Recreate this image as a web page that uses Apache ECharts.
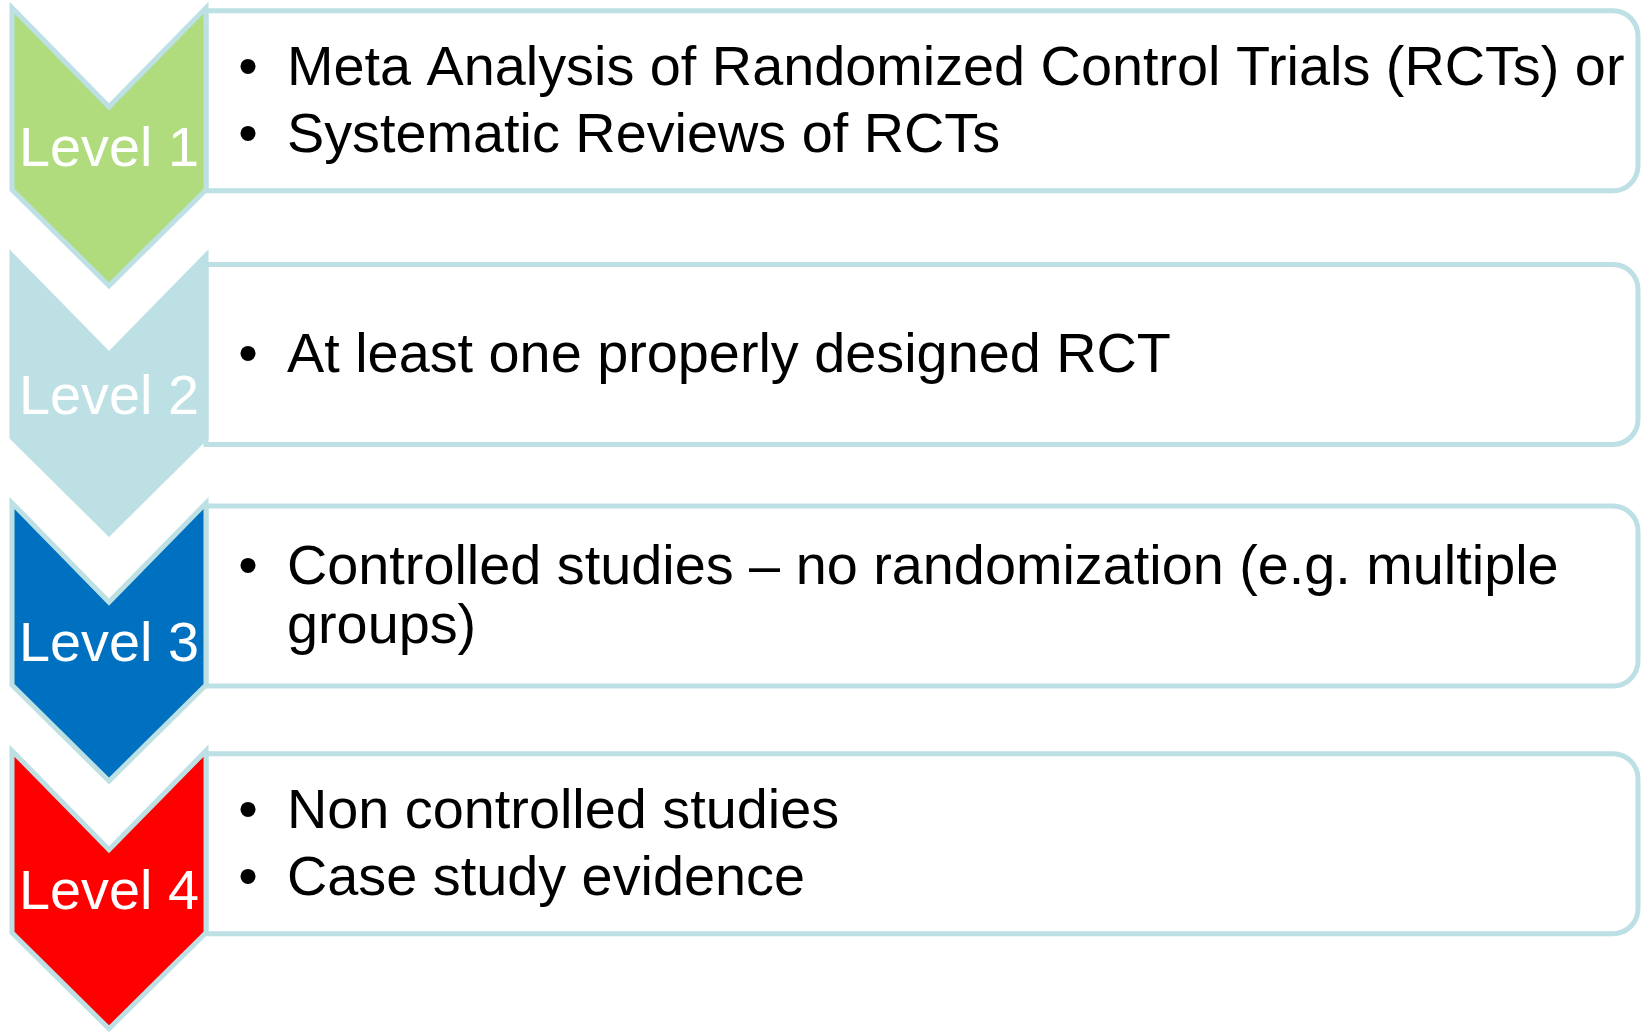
<!DOCTYPE html>
<html>
<head>
<meta charset="utf-8">
<script src="https://cdn.jsdelivr.net/npm/echarts@6/dist/echarts.min.js"></script>
<style>
  html, body { margin: 0; padding: 0; background: #fff; }
  #main { width: 1643px; height: 1033px; }
</style>
</head>
<body>
<div id="main"></div>
<script>
  // levels of evidence, top to bottom
  const levels = ['Level 1', 'Level 2', 'Level 3', 'Level 4'];
  const levelColors = ['#b0dc7e', '#bce0e3', '#0070c0', '#ff0000'];
  const levelPoints = [
    ['Meta Analysis of Randomized Control Trials (RCTs) or', 'Systematic Reviews of RCTs'],
    ['At least one properly designed RCT'],
    ['Controlled studies \u2013 no randomization (e.g. multiple groups)'],
    ['Non controlled studies', 'Case study evidence']
  ];

  const FONT = '"Liberation Sans", Arial, sans-serif';
  const FONT_SIZE = 55.8;
  const EDGE = '#bce0e3';
  // the second text box sits a little lower than the others in the original
  const boxNudge = [0, 6, 0, 0];

  // simple word wrap, measured with the same font the chart uses
  const ctx = document.createElement('canvas').getContext('2d');
  ctx.font = FONT_SIZE + 'px ' + FONT;
  function wrap(text, width) {
    const words = text.split(' ');
    const lines = [];
    let cur = '';
    words.forEach(w => {
      const next = cur ? cur + ' ' + w : w;
      if (cur && ctx.measureText(next).width > width) {
        lines.push(cur);
        cur = w;
      } else {
        cur = next;
      }
    });
    if (cur) lines.push(cur);
    return lines;
  }

  const chart = echarts.init(document.getElementById('main'));

  function renderItem(params, api) {
    const i = params.dataIndex;
    const c = api.coord([0, i])[1];   // centre of the level's band
    const y0 = c - 139;               // chevron top
    const left = 12, right = 206, mid = 109;
    const bc = c - 46 + boxNudge[i];  // centre of the text box

    const children = [];

    // text box, square on the left, rounded on the right
    children.push({
      type: 'rect',
      shape: { x: right, y: bc - 90, width: 1432, height: 180, r: [0, 25, 25, 0] },
      style: { fill: '#fff', stroke: EDGE, lineWidth: 5 }
    });

    // chevron
    children.push({
      type: 'polygon',
      shape: {
        points: [
          [left, y0], [mid, y0 + 99], [right, y0],
          [right, y0 + 182], [mid, y0 + 278], [left, y0 + 182]
        ]
      },
      style: { fill: levelColors[i], stroke: EDGE, lineWidth: 5, lineJoin: 'miter' }
    });
    children.push({
      type: 'text',
      style: {
        text: levels[i], x: mid, y: c + 4,
        fill: '#fff', fontSize: FONT_SIZE, fontFamily: FONT,
        align: 'center', verticalAlign: 'middle'
      }
    });

    // bullets
    const paras = levelPoints[i].map(p => wrap(p, 1360));
    const lineStep = 59, paraStep = 67;
    let total = 0;
    paras.forEach((lines, k) => {
      total += (lines.length - 1) * lineStep;
      if (k > 0) total += paraStep;
    });
    let y = bc + 2 - total / 2;
    paras.forEach((lines, k) => {
      if (k > 0) y += paraStep;
      children.push({
        type: 'text',
        style: {
          text: '\u2022', x: 248, y: y,
          fill: '#000', fontSize: FONT_SIZE, fontFamily: FONT,
          align: 'center', verticalAlign: 'middle'
        }
      });
      lines.forEach((ln, j) => {
        if (j > 0) y += lineStep;
        children.push({
          type: 'text',
          style: {
            text: ln, x: 287, y: y,
            fill: '#000', fontSize: FONT_SIZE, fontFamily: FONT,
            align: 'left', verticalAlign: 'middle'
          }
        });
      });
    });

    return { type: 'group', children: children };
  }

  chart.setOption({
    animation: false,
    grid: { left: 0, right: 0, top: 23, bottom: 19.5 },
    xAxis: { type: 'value', show: false, min: 0, max: 1 },
    yAxis: { type: 'category', show: false, inverse: true, data: levels },
    series: [{
      type: 'custom',
      renderItem: renderItem,
      encode: { x: 0, y: 1 },
      data: levels.map((_, i) => [0, i])
    }]
  });
</script>
</body>
</html>
